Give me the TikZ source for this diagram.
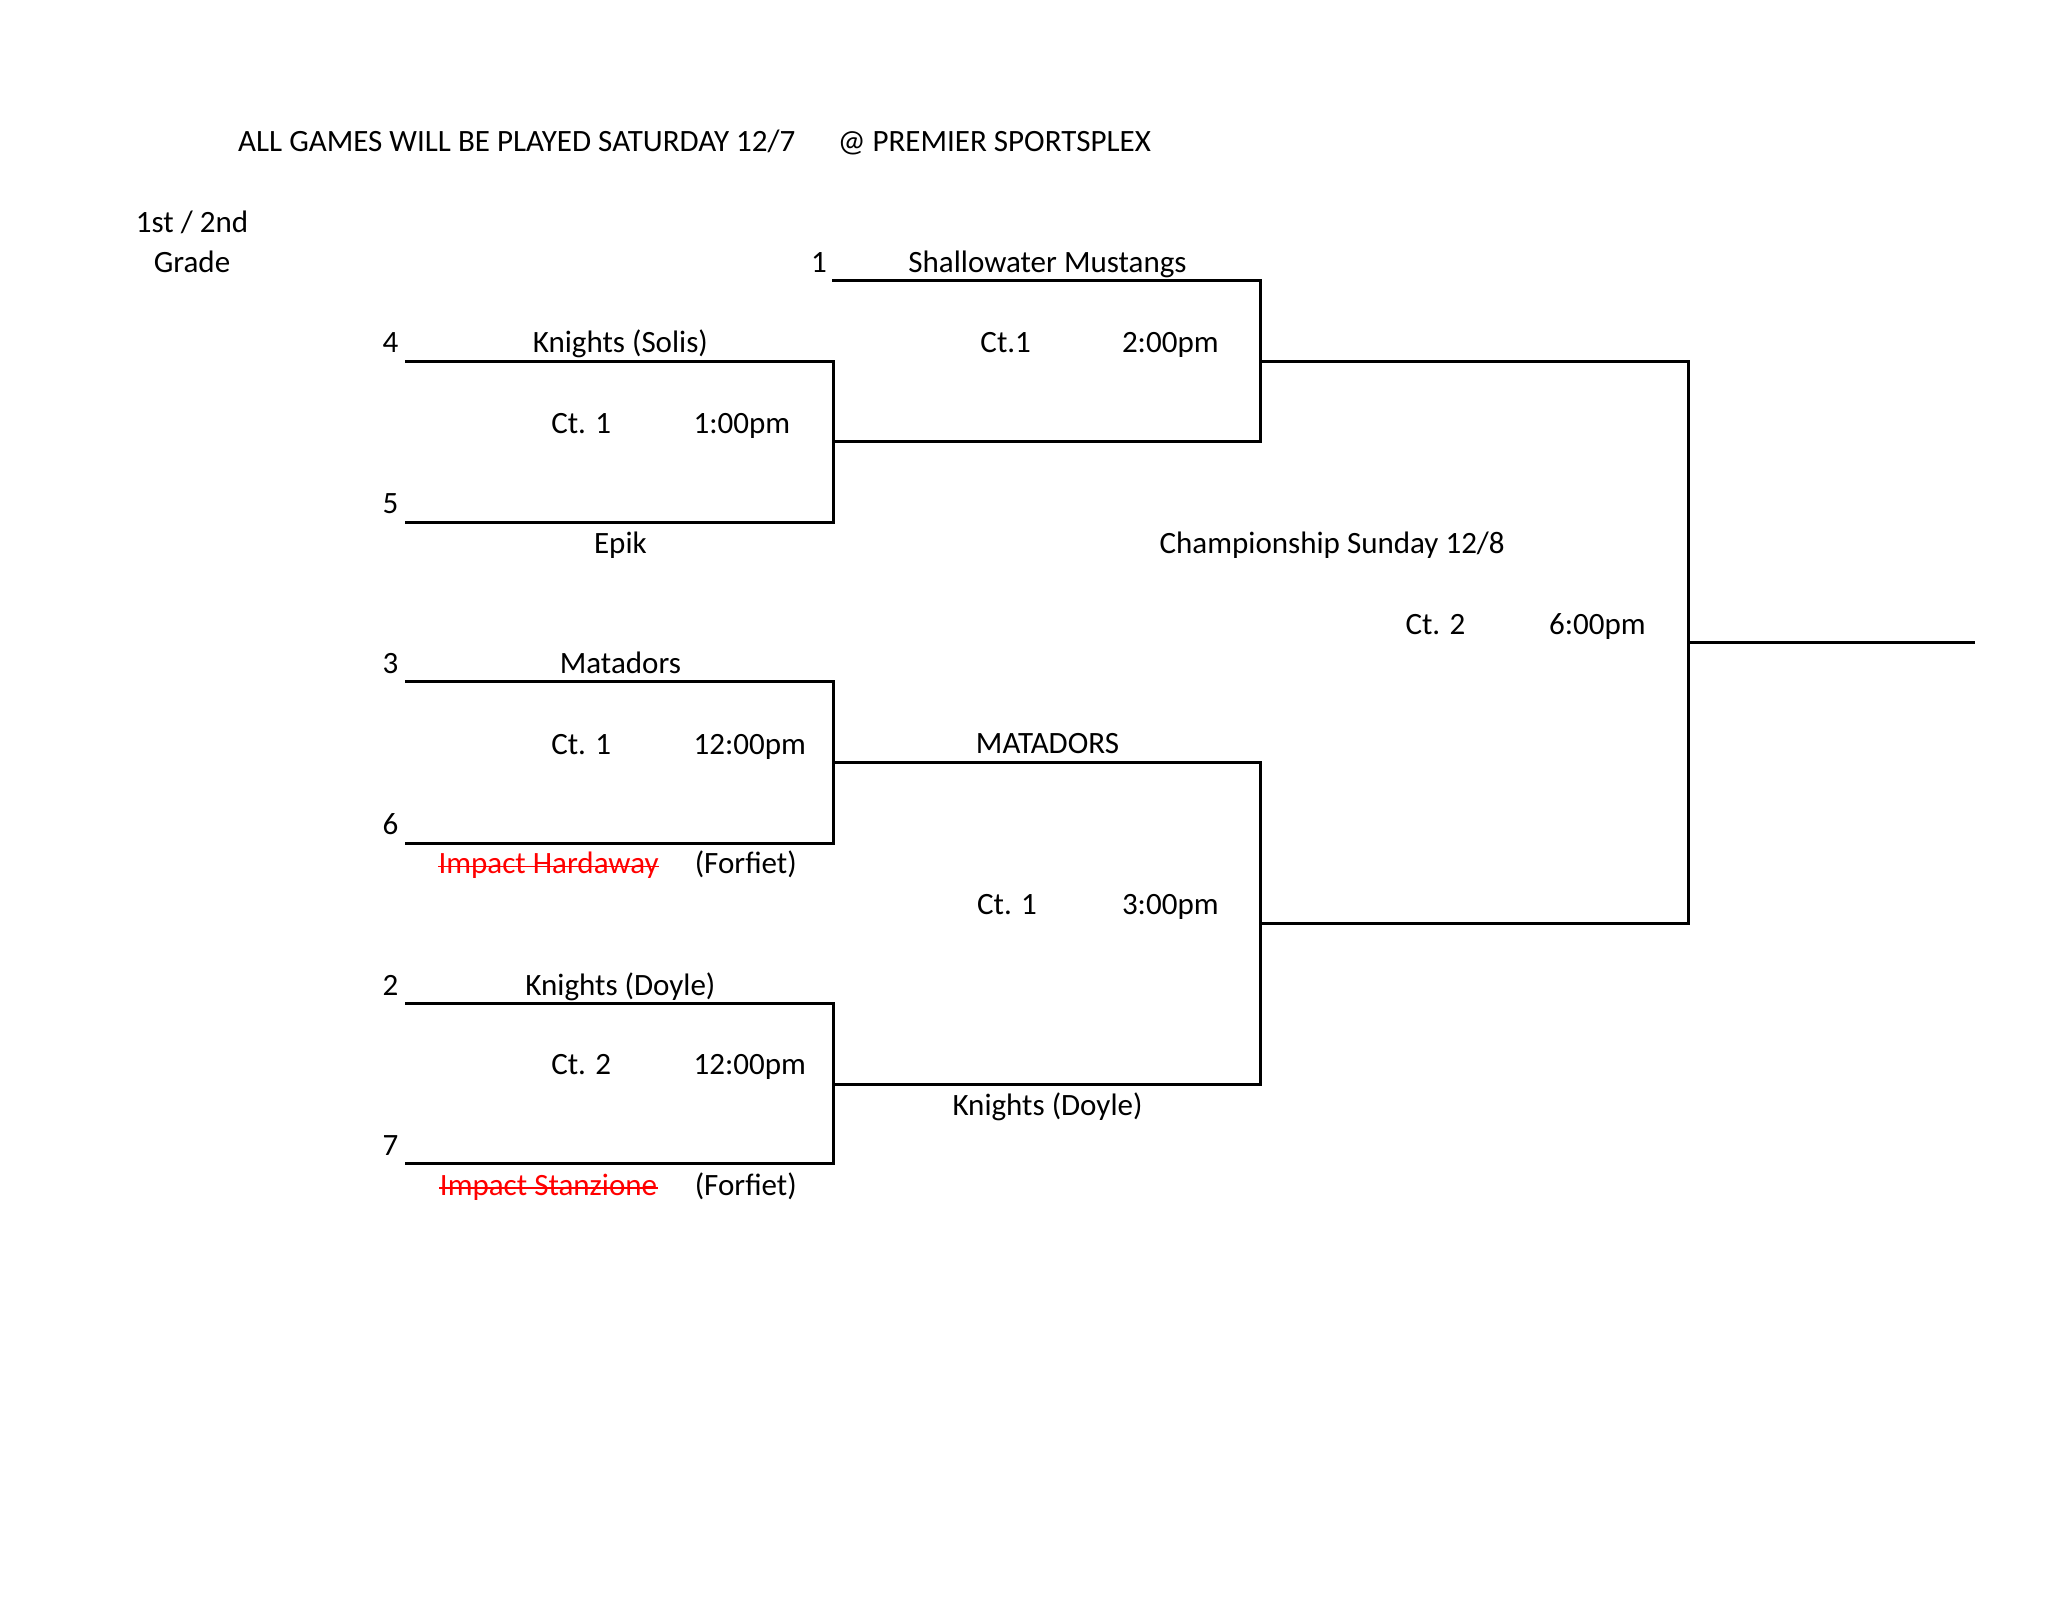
\documentclass[tikz,border=0pt]{standalone}
\usepackage{fontspec}
\setmainfont{Carlito}
\begin{document}
\begin{tikzpicture}[x=0.505pt,y=-0.505pt,
  lbl/.style={anchor=base,inner sep=0pt,font=\fontsize{12}{14}\selectfont},
  lblw/.style={lbl,anchor=base west},
  struck/.style={lbl,text=red},
  bline/.style={line width=1.15pt,line cap=rect}]
\useasboundingbox (0,0) rectangle (1568,1223);
% header
\node[lblw] (t1) at (182,116) {ALL GAMES WILL BE PLAYED SATURDAY 12/7};
\node[lblw] (t2) at (641,116) {@ PREMIER SPORTSPLEX};
\node[lbl] (g1) at (147,178) {1st / 2nd};
\node[lbl] (g2) at (147,209) {Grade};
% seeds
\node[lbl] (s1) at (627,209) {1};
\node[lbl] (s4) at (299,270) {4};
\node[lbl] (s5) at (299,393) {5};
\node[lbl] (s3) at (299,516) {3};
\node[lbl] (s6) at (299,639) {6};
\node[lbl] (s2) at (299,762) {2};
\node[lbl] (s7) at (299,885) {7};
% team names
\node[lbl] (shm) at (802,209) {Shallowater Mustangs};
\node[lbl] (kso) at (475,270) {Knights (Solis)};
\node[lbl] (epk) at (475,424) {Epik};
\node[lbl] (mat) at (475,516) {Matadors};
\node[struck] (imh) at (420,669) {Impact Hardaway};
\node[lbl] (ff1) at (571,669) {(Forfiet)};
\node[lbl] (MAT) at (802,577) {MATADORS};
\node[lbl] (kd1) at (475,762) {Knights (Doyle)};
\node[struck] (ims) at (420,915) {Impact Stanzione};
\node[lbl] (ff2) at (571,915) {(Forfiet)};
\node[lbl] (kd2) at (802,854) {Knights (Doyle)};
% strike lines
\draw[red,line width=0.7pt] ([yshift=2.8pt]imh.base west) -- ([yshift=2.8pt]imh.base east);
\draw[red,line width=0.7pt] ([yshift=2.8pt]ims.base west) -- ([yshift=2.8pt]ims.base east);
% courts and times
\node[lbl] (c45) at (445,332) {Ct. 1};
\node[lbl] (h45) at (568,332) {1:00pm};
\node[lbl] (c36) at (445,578) {Ct. 1};
\node[lbl] (h36) at (574,578) {12:00pm};
\node[lbl] (c27) at (445,823) {Ct. 2};
\node[lbl] (h27) at (574,823) {12:00pm};
\node[lbl] (csf1) at (770,270) {Ct.1};
\node[lbl] (hsf1) at (896,270) {2:00pm};
\node[lbl] (csf2) at (771,700) {Ct. 1};
\node[lbl] (hsf2) at (896,700) {3:00pm};
\node[lbl] (chp) at (1020,424) {Championship Sunday 12/8};
\node[lbl] (cf) at (1099,486) {Ct. 2};
\node[lbl] (hf) at (1223,486) {6:00pm};
% bracket coordinates
\coordinate (a1) at (638,215); \coordinate (a2) at (965,215);
\coordinate (b1) at (311,277); \coordinate (b2) at (638,277);
\coordinate (b3) at (311,400); \coordinate (b4) at (638,400);
\coordinate (q1) at (638,338); \coordinate (q2) at (965,338);
\coordinate (f1) at (965,277); \coordinate (f2) at (1293,277);
\coordinate (d1) at (311,522); \coordinate (d2) at (638,522);
\coordinate (d3) at (311,646); \coordinate (d4) at (638,646);
\coordinate (r1) at (638,584); \coordinate (r2) at (965,584);
\coordinate (e1) at (311,768); \coordinate (e2) at (638,768);
\coordinate (e3) at (311,891); \coordinate (e4) at (638,891);
\coordinate (p1) at (638,830); \coordinate (p2) at (965,830);
\coordinate (g3) at (965,707); \coordinate (g4) at (1293,707);
\coordinate (w1) at (1293,492); \coordinate (w2) at (1511,492);
% bracket lines
\draw[bline] (a1) -- (a2) -- (q2) -- (q1);
\draw[bline] (b1) -- (b2) -- (b4) -- (b3);
\draw[bline] (f1) -- (f2) -- (g4) -- (g3);
\draw[bline] (d1) -- (d2) -- (d4) -- (d3);
\draw[bline] (r1) -- (r2) -- (p2) -- (p1);
\draw[bline] (e1) -- (e2) -- (e4) -- (e3);
\draw[bline] (w1) -- (w2);
\end{tikzpicture}
\end{document}
